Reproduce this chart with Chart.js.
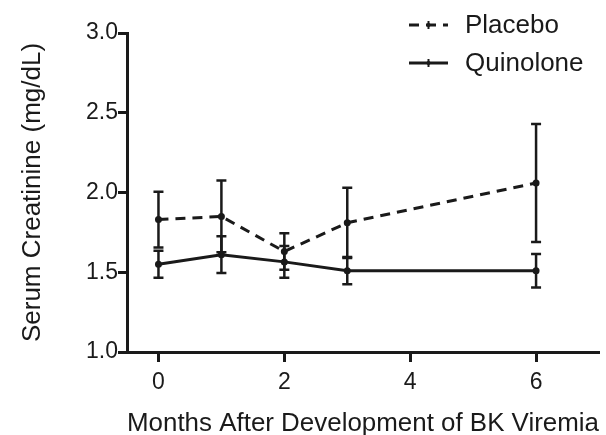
<!DOCTYPE html>
<html><head><meta charset="utf-8">
<script src="https://cdn.jsdelivr.net/npm/chart.js@4"></script>
<style>html,body{margin:0;padding:0;background:#fff}#wrap{width:606px;height:435px}</style>
</head><body><div id="wrap"><canvas id="c" width="606" height="435"></canvas></div>
<script>
const months = [0, 1, 2, 3, 6];
const placeboMean = [1.83, 1.85, 1.63, 1.81, 2.06];
const placeboErr = [0.175, 0.225, 0.115, 0.22, 0.37];
const quinoloneMean = [1.55, 1.61, 1.565, 1.51, 1.51];
const quinoloneErr = [0.085, 0.115, 0.10, 0.085, 0.105];
const xTicks = [0, 2, 4, 6];
const yTicks = [1.0, 1.5, 2.0, 2.5, 3.0];
const seriesLabels = ['Placebo', 'Quinolone'];

const INK = '#1a1a1a';
const FONT = "'Liberation Sans', Arial, sans-serif";

const errorBars = {
  id: 'errorBars',
  afterDatasetsDraw(chart) {
    const ctx = chart.ctx, xs = chart.scales.x, ys = chart.scales.y;
    chart.data.datasets.forEach(ds => {
      ctx.save();
      ctx.strokeStyle = INK; ctx.lineWidth = 2.5; ctx.setLineDash([]);
      ds.data.forEach((p, i) => {
        const e = ds.errors[i];
        const px = xs.getPixelForValue(p.x);
        const top = ys.getPixelForValue(p.y + e), bot = ys.getPixelForValue(p.y - e);
        ctx.beginPath();
        ctx.moveTo(px, top); ctx.lineTo(px, bot);
        ctx.moveTo(px - 5, top); ctx.lineTo(px + 5, top);
        ctx.moveTo(px - 5, bot); ctx.lineTo(px + 5, bot);
        ctx.stroke();
      });
      ctx.restore();
    });
  }
};

const legendPlugin = {
  id: 'customLegend',
  afterDraw(chart) {
    const ctx = chart.ctx;
    const rows = [25, 63];
    chart.data.datasets.forEach((ds, i) => {
      const y = rows[i];
      ctx.save();
      ctx.strokeStyle = INK; ctx.lineWidth = 3;
      ctx.setLineDash(ds.borderDash || []);
      ctx.beginPath(); ctx.moveTo(409, y); ctx.lineTo(448, y); ctx.stroke();
      ctx.setLineDash([]);
      ctx.fillStyle = INK;
      ctx.beginPath(); ctx.arc(428.5, y, 2, 0, Math.PI * 2); ctx.fill();
      ctx.lineWidth = 2;
      ctx.beginPath(); ctx.moveTo(428.5, y - 4); ctx.lineTo(428.5, y + 4); ctx.stroke();
      ctx.font = '26px ' + FONT;
      ctx.textBaseline = 'middle';
      ctx.fillText(ds.label, 465, y + 1);
      ctx.restore();
    });
  }
};

new Chart(document.getElementById('c'), {
  type: 'line',
  data: {
    datasets: [
      { label: seriesLabels[0], data: months.map((m, i) => ({ x: m, y: placeboMean[i] })), errors: placeboErr,
        borderColor: INK, backgroundColor: INK, borderWidth: 3, borderDash: [10, 7], pointRadius: 2, tension: 0, fill: false },
      { label: seriesLabels[1], data: months.map((m, i) => ({ x: m, y: quinoloneMean[i] })), errors: quinoloneErr,
        borderColor: INK, backgroundColor: INK, borderWidth: 3, pointRadius: 2, tension: 0, fill: false }
    ]
  },
  options: {
    responsive: false, animation: false, devicePixelRatio: 1,
    layout: { padding: { top: 33, left: 15, right: 0, bottom: 0 } },
    plugins: { legend: { display: false }, tooltip: { enabled: false } },
    scales: {
      x: {
        type: 'linear', min: -0.5, max: 7,
        afterBuildTicks(s) { s.ticks = xTicks.map(v => ({ value: v })); },
        afterFit(s) { s.height = 83; },
        border: { color: INK, width: 3 },
        grid: { drawOnChartArea: false, color: INK, tickLength: 10, tickWidth: 3 },
        ticks: { color: INK, font: { family: FONT, size: 23 }, padding: 7, callback: v => String(v) },
        title: { display: true, text: 'Months After Development of BK Viremia', color: INK, font: { family: FONT, size: 26 }, padding: { top: 10, bottom: -4 } }
      },
      y: {
        min: 1, max: 3,
        afterBuildTicks(s) { s.ticks = yTicks.map(v => ({ value: v })); },
        afterFit(s) { s.width = 112; },
        border: { color: INK, width: 3 },
        grid: { drawOnChartArea: false, color: INK, tickLength: 9, tickWidth: 3 },
        ticks: { color: INK, font: { family: FONT, size: 23 }, padding: 0, callback: v => Number(v).toFixed(1) },
        title: { display: true, text: 'Serum Creatinine (mg/dL)', color: INK, font: { family: FONT, size: 26 }, padding: { top: 2, bottom: 0 } }
      }
    }
  },
  plugins: [errorBars, legendPlugin]
});
</script></body></html>
